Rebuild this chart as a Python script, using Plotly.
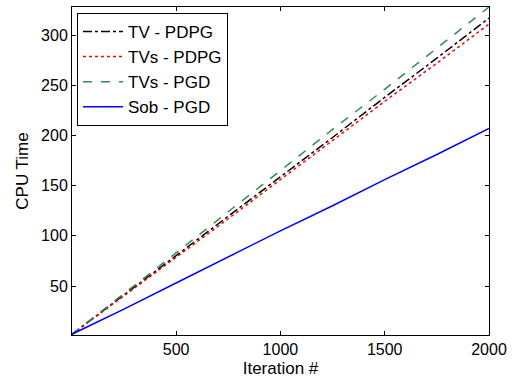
import plotly.graph_objects as go

iterations = [1, 250, 500, 750, 1000, 1250, 1500, 1750, 2000]
tv_pdpg = [2, 41, 80, 119, 159, 198, 238, 277, 317]
tvs_pdpg = [2, 40, 79, 117, 156, 195, 234, 272, 311]
tvs_pgd = [2, 42, 83, 124, 165, 206, 246, 287, 328]
sob_pgd = [2, 27, 53, 79, 105, 130, 156, 181, 207]

series = [
    ("TV - PDPG", tv_pdpg, "black", "dashdot"),
    ("TVs - PDPG", tvs_pdpg, "red", "dot"),
    ("TVs - PGD", tvs_pgd, "#2E8B57", "dash"),
    ("Sob - PGD", sob_pgd, "blue", "solid"),
]

fig = go.Figure()
for name, ys, color, dash in series:
    fig.add_trace(go.Scatter(x=iterations, y=ys, mode="lines", name=name,
                             line=dict(color=color, dash=dash, width=1.5)))

family = "Liberation Sans, Arial, sans-serif"
font = dict(family=family, size=16, color="black")
title_font = dict(family=family, size=17, color="black")
legend_font = dict(family=family, size=17, color="black")
axis_common = dict(showgrid=False, zeroline=False, showline=True, linecolor="black",
                   linewidth=1, mirror="ticks", ticks="inside", ticklen=4,
                   tickcolor="black", tickfont=font)

fig.update_layout(
    width=526, height=382,
    margin=dict(l=72, r=37, t=7, b=47),
    paper_bgcolor="white", plot_bgcolor="white",
    font=font,
    xaxis=dict(range=[1, 2000], tickvals=[500, 1000, 1500, 2000],
               title=dict(text="Iteration #", font=title_font, standoff=4), **axis_common),
    yaxis=dict(range=[1.2, 328], tickvals=[50, 100, 150, 200, 250, 300],
               title=dict(text="CPU Time", font=title_font, standoff=8), **axis_common),
    legend=dict(x=0.012, y=0.982, xanchor="left", yanchor="top",
                bgcolor="white", bordercolor="black", borderwidth=1,
                font=legend_font, tracegroupgap=0, itemwidth=40),
    showlegend=True,
)

fig.write_html("out.html", config={"displayModeBar": False},
               post_script="document.body.style.margin='0';document.body.style.padding='0';")
